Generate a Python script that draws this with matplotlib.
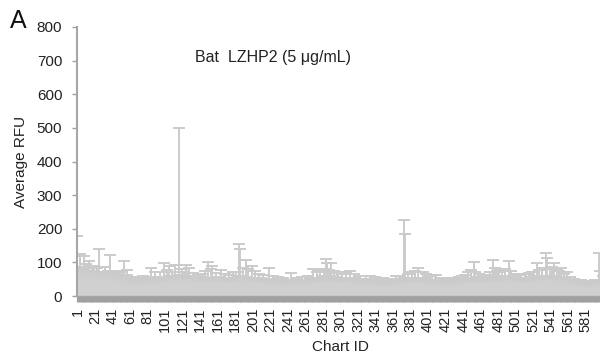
import matplotlib
matplotlib.use("Agg")
import matplotlib.pyplot as plt
import numpy as np

plt.rcParams['font.family'] = ['Liberation Sans', 'DejaVu Sans']

# Mean RFU per chart ID (1..600) in blocks of 20
values = [
    72,68,75,64,70,66,73,61,69,58,66,63,71,60,57,65,62,68,59,64,
    60,55,63,58,52,61,57,54,62,50,56,59,53,58,51,55,60,57,52,49,
    54,58,50,55,52,49,56,51,47,53,50,46,52,55,48,44,50,45,42,47,
    40,43,38,41,36,39,42,37,35,40,38,36,41,39,37,42,40,38,43,41,
    44,40,46,42,45,41,47,43,40,45,42,46,44,41,47,43,45,48,44,46,
    48,45,50,46,52,49,47,51,44,48,50,46,49,53,47,45,56,50,48,52,
    50,47,53,49,51,46,48,52,45,49,47,44,48,46,50,43,47,45,42,46,
    44,47,43,46,42,45,48,44,46,49,45,43,47,44,48,46,42,45,43,47,
    44,46,42,45,48,43,46,44,41,45,43,47,44,42,46,43,45,41,44,47,
    46,44,48,45,50,47,49,45,48,46,44,47,51,46,43,48,45,47,44,46,
    45,42,46,43,44,41,45,42,40,44,41,43,40,42,39,43,41,40,42,44,
    40,38,41,37,39,36,38,40,35,37,39,36,38,35,37,34,36,38,35,37,
    36,38,35,37,40,36,38,35,37,39,36,38,35,37,39,36,38,40,37,39,
    38,40,37,41,39,42,40,38,43,45,41,44,42,46,43,45,47,44,46,48,
    46,48,45,50,47,49,46,44,48,50,47,45,49,46,44,47,45,43,46,44,
    43,45,42,44,41,43,45,42,44,46,43,47,44,42,45,43,41,44,42,40,
    41,39,42,38,40,37,41,39,42,40,38,36,39,37,40,38,36,39,41,38,
    36,34,37,35,33,36,34,37,35,33,36,34,32,35,33,36,34,37,35,38,
    37,39,36,40,38,41,39,42,40,38,41,39,43,45,42,40,38,41,39,42,
    44,42,45,43,46,44,42,45,43,47,44,42,45,43,46,44,42,40,43,41,
    40,38,41,39,37,40,38,36,39,41,38,36,39,37,35,38,36,39,37,35,
    36,34,37,35,38,33,36,34,37,35,33,36,34,37,35,38,36,39,37,40,
    41,39,42,40,43,41,44,42,45,43,46,44,47,45,43,46,44,42,45,43,
    41,43,40,42,44,41,43,45,42,44,46,43,45,47,48,46,49,47,45,48,
    46,48,45,47,49,46,48,50,47,49,46,48,51,47,49,46,48,45,47,44,
    45,43,46,44,42,45,43,41,44,42,45,43,46,44,47,45,48,46,49,47,
    48,46,49,47,50,48,51,49,47,50,48,51,49,47,52,50,53,49,47,50,
    48,51,49,47,50,48,46,49,47,45,48,46,49,47,45,43,46,44,42,45,
    42,40,38,41,39,37,35,38,36,34,33,35,32,34,31,33,30,32,31,29,
    30,28,31,29,32,30,33,31,34,32,35,33,36,34,37,40,38,36,39,37,
]

# Upper error (SD) per chart ID
errors = [
    107,10,12,61,9,11,10,57,12,10,29,9,11,45,12,10,9,20,11,21,
    10,12,19,9,11,80,10,11,9,22,10,12,33,9,11,20,10,65,11,9,
    10,9,22,11,10,26,9,11,10,17,9,11,10,49,9,10,11,32,9,10,
    9,10,17,8,9,10,8,9,10,17,8,9,10,8,9,18,9,8,10,9,
    9,10,8,9,37,10,9,8,10,25,9,8,10,9,25,9,10,8,9,53,
    9,10,28,9,8,39,10,9,28,8,10,46,9,8,10,9,444,10,9,28,
    9,25,8,10,41,9,10,30,8,10,9,8,20,9,10,8,9,17,8,10,
    9,10,21,8,9,10,27,9,8,53,10,9,33,8,40,9,10,8,25,9,
    9,10,8,9,29,10,9,8,23,10,9,8,10,20,9,8,10,29,9,8,
    9,28,10,9,104,10,90,9,10,36,8,10,56,9,10,32,9,8,10,43,
    10,9,8,32,9,10,8,24,9,10,8,9,22,8,10,9,8,10,9,38,
    9,8,10,23,9,8,10,9,8,19,10,9,8,10,9,20,8,9,10,9,
    9,10,8,9,29,10,8,9,10,8,19,9,10,8,9,10,19,8,9,10,
    9,8,10,19,9,10,8,9,10,35,9,10,8,24,9,10,8,30,9,10,
    10,32,9,60,10,48,9,34,10,47,9,8,10,29,9,10,8,25,9,10,
    9,8,24,10,9,8,25,9,10,8,9,27,10,9,8,21,9,10,8,9,
    9,8,18,9,10,8,9,10,8,20,9,10,8,9,18,10,8,9,10,19,
    8,9,10,17,8,9,10,8,9,20,8,9,10,8,9,16,8,9,10,8,
    9,8,10,18,9,10,8,18,9,10,8,9,10,181,142,8,9,23,10,9,
    9,10,25,8,9,31,10,9,8,35,9,10,8,9,26,10,8,9,21,10,
    9,8,19,10,9,22,8,9,10,21,9,8,10,9,20,8,9,10,17,9,
    8,9,10,8,17,9,10,8,9,17,8,9,10,8,9,18,10,8,9,20,
    9,10,20,8,9,10,26,9,10,35,8,10,53,9,29,10,8,9,19,10,
    9,8,10,18,9,10,8,9,10,18,9,29,10,8,59,10,33,9,10,27,
    10,24,9,8,29,10,9,8,33,10,9,8,53,10,9,29,8,10,9,22,
    9,10,20,8,9,10,19,8,9,10,8,21,9,10,8,23,9,10,23,9,
    9,26,10,8,47,10,9,29,8,10,34,9,10,8,75,10,59,9,8,30,
    10,34,9,8,47,10,9,31,8,30,9,10,34,8,9,22,10,8,9,25,
    8,9,18,8,9,10,15,8,9,8,13,9,8,9,17,8,9,8,11,9,
    8,9,11,8,9,10,12,8,9,10,13,9,10,8,9,87,36,9,10,21,
]

x_labels = ['1','21','41','61','81','101','121','141','161','181','201','221',
            '241','261','281','301','321','341','361','381','401','421','441',
            '461','481','501','521','541','561','581']
y_ticks = [0, 100, 200, 300, 400, 500, 600, 700, 800]

n = len(values)
chart_ids = np.arange(1, n + 1)

fig = plt.figure(figsize=(6.0, 3.62), dpi=100)
ax = fig.add_axes([77/600, 1 - 296/362, 526/600, (296 - 27)/362])

ax.bar(chart_ids, values, width=1.0, color='#cfcfcf', edgecolor='#cfcfcf',
       linewidth=0.4, zorder=2)
ax.errorbar(chart_ids, values, yerr=[np.zeros(n), errors], fmt='none',
            ecolor='#cbcbcb', elinewidth=1.4, capsize=4.6, capthick=1.4, zorder=1)

ax.set_xlim(0.5, n + 0.5)
ax.set_ylim(0, 800)
ax.set_yticks(y_ticks)
ax.set_yticklabels([str(v) for v in y_ticks], fontsize=11, color='#222222')

labels_all = [''] * n
for lab in x_labels:
    labels_all[int(lab) - 1] = lab
ax.set_xticks(chart_ids)
ax.set_xticklabels(labels_all, rotation=90, fontsize=10.5, color='#222222')

ax.tick_params(axis='y', direction='out', length=3.6, width=1.0, color='#a0a0a0', pad=7)
ax.tick_params(axis='x', direction='out', length=4.3, width=0.8, color='#a0a0a0', pad=4)

for s in ['top', 'right']:
    ax.spines[s].set_visible(False)
ax.spines['left'].set_color('#a6a6a6')
ax.spines['left'].set_linewidth(1.5)
ax.spines['bottom'].set_color('#a6a6a6')
ax.spines['bottom'].set_linewidth(1.0)

ax.set_xlabel('Chart ID', fontsize=11, color='#222222', labelpad=6)
ax.set_ylabel('Average RFU', fontsize=11, color='#222222', labelpad=6)

ax.text(0.225, 0.885, 'Bat  LZHP2 (5 μg/mL)', transform=ax.transAxes, fontsize=11.5,
        color='#222222', ha='left', va='center')
fig.text(10/600, 1 - 21/362, 'A', fontsize=18, color='#111111', ha='left', va='center')

fig.savefig('out.png', dpi=100)
